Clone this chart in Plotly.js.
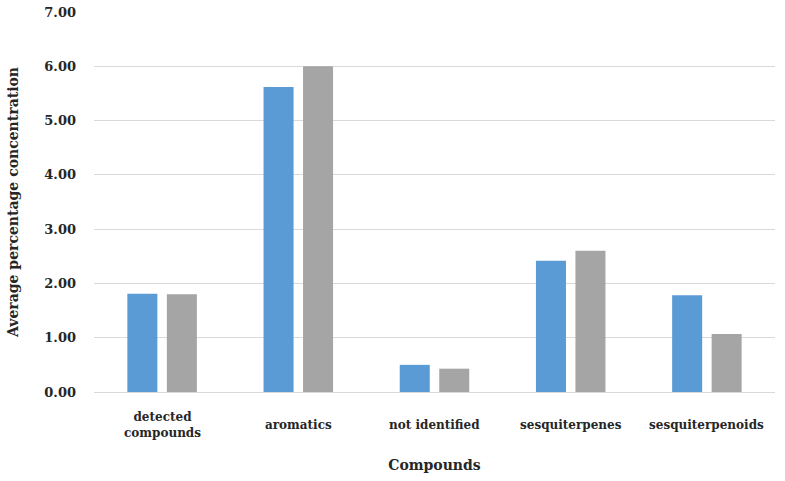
<!DOCTYPE html>
<html>
<head>
<meta charset="utf-8">
<script src="https://cdn.plot.ly/plotly-3.0.1.min.js"></script>
<style>html,body{margin:0;padding:0;background:#fff;}#chart{width:785px;height:481px;}</style>
</head>
<body>
<div id="chart"></div>
<script>
const categories = ["detected compounds", "aromatics", "not identified", "sesquiterpenes", "sesquiterpenoids"];
const categoryLabels = ["detected<br>compounds", "aromatics", "not identified", "sesquiterpenes", "sesquiterpenoids"];
const seriesA = [1.81, 5.62, 0.50, 2.42, 1.78];
const seriesB = [1.80, 6.00, 0.43, 2.60, 1.07];
const yTicks = [0, 1, 2, 3, 4, 5, 6, 7];

const fontFam = "DejaVu Serif, serif";
const traces = [
  {type: "bar", x: categories, y: seriesA, name: "Series 1", marker: {color: "#5B9BD5"}},
  {type: "bar", x: categories, y: seriesB, name: "Series 2", marker: {color: "#A5A5A5"}}
];
const annotations = categories.map((c, i) => ({
  x: c, xref: "x", y: 0, yref: "paper", yanchor: "middle", yshift: -33,
  text: categoryLabels[i], showarrow: false,
  font: {family: fontFam, size: 12, color: "#262626", weight: "bold"}
}));
const layout = {
  width: 785, height: 481,
  margin: {l: 94, r: 10, t: 12, b: 89},
  paper_bgcolor: "#fff", plot_bgcolor: "#fff",
  showlegend: false,
  barmode: "group", bargap: 0.42, bargroupgap: 0.24,
  font: {family: fontFam, color: "#262626"},
  xaxis: {
    showticklabels: false, showline: false, showgrid: false, zeroline: false,
    title: {text: "Compounds", font: {family: fontFam, size: 14, weight: "bold", color: "#262626"}, standoff: 68}
  },
  yaxis: {
    range: [0, 7], tickvals: yTicks, ticktext: yTicks.map(v => v.toFixed(2)),
    showgrid: true, gridcolor: "#D9D9D9", gridwidth: 1, zeroline: true, zerolinecolor: "#D9D9D9",
    showline: false, ticks: "", ticklabelstandoff: 17,
    tickfont: {family: fontFam, size: 13, weight: "bold", color: "#262626"},
    title: {text: "Average percentage concentration", font: {family: fontFam, size: 14, weight: "bold", color: "#262626"}, standoff: 22}
  },
  annotations: annotations
};
Plotly.newPlot("chart", traces, layout, {displayModeBar: false, staticPlot: true});
</script>
</body>
</html>
